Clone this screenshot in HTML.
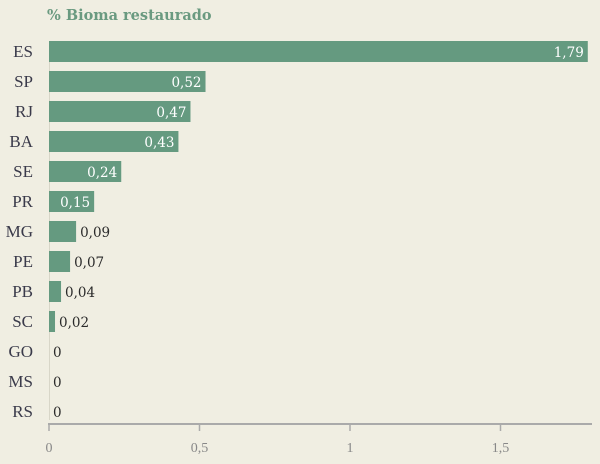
<!DOCTYPE html>
<html><head><meta charset="utf-8"><style>
html,body{margin:0;padding:0;background:#f0eee2;}
svg{display:block;font-family:"Liberation Serif",serif;}
</style></head><body>
<svg id="chart" width="600" height="464" viewBox="0 0 600 464">
<rect width="600" height="464" fill="#f0eee2"/>
<text x="47" y="20" font-size="14.5" font-weight="bold" fill="#6a9a80" style="font-family:'DejaVu Serif',serif">% Bioma restaurado</text>
<g id="bars"></g>
<g id="axis"></g>
</svg>
<script>
const categories=["ES","SP","RJ","BA","SE","PR","MG","PE","PB","SC","GO","MS","RS"];
const values=[1.79,0.52,0.47,0.43,0.24,0.15,0.09,0.07,0.04,0.02,0,0,0];
const labels=["1,79","0,52","0,47","0,43","0,24","0,15","0,09","0,07","0,04","0,02","0","0","0"];
const ticks=[0,0.5,1,1.5];
const tickLabels=["0","0,5","1","1,5"];
const NS="http://www.w3.org/2000/svg";
const x0=49,scale=301;
const xs=v=>x0+v*scale;
const ys=i=>41+i*30;
const bh=21;
const g=document.getElementById('bars');
function mk(t,a){const e=document.createElementNS(NS,t);for(const k in a)e.setAttribute(k,a[k]);return e;}
const zl=mk('line',{x1:49.5,x2:49.5,y1:41,y2:420,stroke:'#d8d6c8','stroke-width':1});


g.appendChild(zl);
categories.forEach((c,i)=>{
  const y=ys(i);
  const lab=mk('text',{x:33,y:y+16,'text-anchor':'end','font-size':17,fill:'#3a3a4a'});
  lab.textContent=c;
  
  
  g.appendChild(lab);
  const w=xs(values[i])-x0;
  const r=mk('rect',{x:x0,y:y,width:Math.max(w,0),height:bh,fill:'#659a80'});
  
  
  g.appendChild(r);
  const inside=w>40;
  const t=mk('text',{x:inside?x0+w-4:x0+w+4,y:y+16,'text-anchor':inside?'end':'start','font-size':13.5,fill:inside?'#ffffff':'#2a2a2a',style:"font-family:'DejaVu Serif',serif"});
  t.textContent=labels[i];
  
  
  g.appendChild(t);
});
const a=document.getElementById('axis');
const line=mk('line',{x1:48,x2:592,y1:424,y2:424,stroke:'#aaaaaa','stroke-width':2});


a.appendChild(line);
ticks.forEach((v,i)=>{
  const tk=mk('line',{x1:xs(v),x2:xs(v),y1:424,y2:431,stroke:'#aaaaaa','stroke-width':1.5});
  
  
  a.appendChild(tk);
  const tl=mk('text',{x:xs(v),y:452,'text-anchor':'middle','font-size':14,fill:'#888888'});
  tl.textContent=tickLabels[i];
  
  
  a.appendChild(tl);
});
</script>
</body></html>
